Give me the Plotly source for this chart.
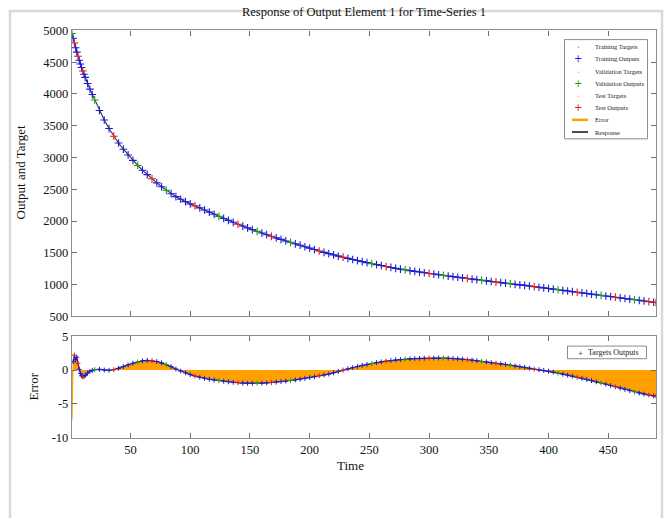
import plotly.graph_objects as go

# ---- data -------------------------------------------------------------
time = [
    1, 2, 3, 4, 5, 6, 7, 8, 9, 10, 11, 12, 14, 16, 18,
    20, 24, 28, 32, 36, 40, 44, 48, 52, 56, 60, 64, 68, 72, 76, 80, 84, 88, 92, 96, 100, 104, 108,
    112, 116, 120, 124, 128, 132, 136, 140, 144, 148, 152, 156, 160, 164, 168, 172, 176, 180, 184, 188, 192, 196, 200,
    204, 208, 212, 216, 220, 224, 228, 232, 236, 240, 244, 248, 252, 256, 260, 264, 268, 272, 276, 280, 284, 288, 292, 296, 300,
    304, 308, 312, 316, 320, 324, 328, 332, 336, 340, 344, 348, 352, 356, 360, 364, 368, 372, 376, 380, 384, 388, 392, 396, 400,
    404, 408, 412, 416, 420, 424, 428, 432, 436, 440, 444, 448, 452, 456, 460, 464, 468, 472, 476, 480, 484, 488, 490,
]

outputs = [
    4950, 4875, 4800, 4727, 4657, 4592, 4530, 4470, 4415, 4360, 4310, 4260, 4165, 4075, 3990,
    3905, 3740, 3590, 3455, 3335, 3228, 3130, 3040, 2955, 2875, 2800, 2730, 2665, 2600, 2540, 2484, 2430, 2385, 2343, 2305, 2270, 2238, 2207,
    2174, 2140, 2106, 2073, 2041, 2010, 1980, 1950, 1921, 1893, 1865, 1838, 1811, 1785, 1760, 1735, 1711, 1687, 1664, 1642, 1620, 1596, 1574,
    1552, 1529, 1508, 1488, 1468, 1449, 1431, 1413, 1395, 1379, 1362, 1346, 1330, 1315, 1300, 1284, 1270, 1256, 1243, 1232, 1220, 1209, 1198, 1187, 1176,
    1166, 1155, 1145, 1135, 1126, 1116, 1106, 1097, 1087, 1078, 1068, 1059, 1049, 1040, 1031, 1022, 1013, 1004, 996, 988, 978, 968, 959, 949, 939,
    929, 919, 910, 900, 890, 880, 870, 861, 851, 841, 831, 821, 812, 802, 792, 782, 772, 763, 753, 743, 733, 723, 718,
]

errors = [
    -7.4, 1.2, 2.2, 1.5, 1.9, 1.0, 0.1, -0.5, -0.85, -1.0, -0.95, -0.8, -0.45, -0.2, -0.05,
    0.05, 0.1, 0.0, -0.05, 0.05, 0.25, 0.5, 0.75, 1.0, 1.2, 1.35, 1.42, 1.38, 1.25, 1.05, 0.8, 0.5, 0.15, -0.15, -0.42, -0.68, -0.9, -1.08,
    -1.23, -1.36, -1.47, -1.57, -1.66, -1.74, -1.82, -1.88, -1.93, -1.96, -1.97, -1.96, -1.94, -1.9, -1.85, -1.79, -1.72, -1.64, -1.55, -1.45, -1.35, -1.24, -1.12,
    -1.0, -0.87, -0.74, -0.6, -0.4, -0.2, 0.0, 0.18, 0.35, 0.52, 0.68, 0.83, 0.97, 1.1, 1.21, 1.31, 1.4, 1.48, 1.55, 1.6, 1.65, 1.69, 1.72, 1.74, 1.76,
    1.77, 1.77, 1.76, 1.74, 1.71, 1.66, 1.6, 1.53, 1.45, 1.37, 1.28, 1.19, 1.09, 0.99, 0.92, 0.82, 0.72, 0.61, 0.5, 0.39, 0.27, 0.13, 0.04, -0.06, -0.18,
    -0.31, -0.45, -0.6, -0.75, -0.9, -1.06, -1.22, -1.39, -1.56, -1.74, -1.92, -2.1, -2.29, -2.48, -2.67, -2.86, -3.05, -3.23, -3.4, -3.56, -3.7, -3.82, -3.87,
]

# error = target - output
targets = [o + e for o, e in zip(outputs, errors)]

# sample indices assigned to the validation and test subsets (rest = training)
val_idx = [0, 15, 24, 30, 41, 49, 56, 73, 80, 88, 96, 102, 112, 121, 128]
test_idx = [2, 5, 9, 19, 27, 36, 45, 52, 62, 67, 76, 85, 93, 99, 107, 116, 124, 131, 133]

y_ticks_top = [500, 1000, 1500, 2000, 2500, 3000, 3500, 4000, 4500, 5000]
y_ticks_err = [-10, -5, 0, 5]
x_ticks = [50, 100, 150, 200, 250, 300, 350, 400, 450]

legend_labels = ["Training Targets", "Training Outputs", "Validation Targets",
                 "Validation Outputs", "Test Targets", "Test Outputs", "Error", "Response"]

# ---- helpers ----------------------------------------------------------
W, H = 668, 518
FONT = "Liberation Serif"

BLUE, GREEN, RED = "#1c1cd6", "#16a016", "#de1a1a"
ORANGE = "#ffa000"


def fx(p):
    return p / W


def fy(p):
    return 1 - p / H


def subset(idx_list):
    return ([time[i] for i in idx_list],
            [outputs[i] for i in idx_list],
            [targets[i] for i in idx_list],
            [errors[i] for i in idx_list])


all_idx = list(range(len(time)))
train_idx = [i for i in all_idx if i not in val_idx and i not in test_idx]

groups = [
    ("Training", train_idx, BLUE, "#7a7aff"),
    ("Validation", val_idx, GREEN, "#7fd27f"),
    ("Test", test_idx, RED, "#ff8c8c"),
]

fig = go.Figure()

# ---- top panel: response --------------------------------------------
fig.add_trace(go.Scatter(
    x=time, y=outputs, mode="lines", name="Response",
    line=dict(color="#333333", width=1.1),
    xaxis="x", yaxis="y",
))

for label, idx, col, light in groups:
    t_, o_, g_, e_ = subset(idx)
    fig.add_trace(go.Scatter(
        x=t_, y=g_, mode="markers", name=f"{label} Targets",
        marker=dict(symbol="circle", size=2, color=light),
        xaxis="x", yaxis="y",
    ))
    fig.add_trace(go.Scatter(
        x=t_, y=o_, mode="markers", name=f"{label} Outputs",
        marker=dict(symbol="cross-thin", size=5.5, line=dict(width=1.1, color=col)),
        xaxis="x", yaxis="y",
    ))

# ---- bottom panel: errors ---------------------------------------------
fig.add_trace(go.Scatter(
    x=time, y=errors, mode="lines", fill="tozeroy",
    fillcolor=ORANGE, line=dict(color=ORANGE, width=1),
    xaxis="x2", yaxis="y2", name="Error",
))
fig.add_trace(go.Scatter(
    x=time[1:], y=errors[1:], mode="lines",
    line=dict(color="#2b2b80", width=1.2),
    xaxis="x2", yaxis="y2", name="Targets Outputs",
))
for label, idx, col, light in groups:
    t_, o_, g_, e_ = subset([i for i in idx if i > 0])
    fig.add_trace(go.Scatter(
        x=t_, y=e_, mode="markers", name=f"{label} Errors",
        marker=dict(symbol="cross-thin", size=3.5, line=dict(width=1, color=col)),
        xaxis="x2", yaxis="y2",
    ))

# ---- axes ---------------------------------------------------------------
axis_common = dict(
    showline=True, linecolor="#8c8c8c", linewidth=1.4, mirror="ticks",
    ticks="inside", ticklen=5, tickcolor="#6e6e6e", tickwidth=1,
    showgrid=False, zeroline=False,
    tickfont=dict(family=FONT, size=12.5, color="#111"),
)
x_dom = [fx(72), fx(656)]

fig.update_layout(
    xaxis=dict(domain=x_dom, anchor="y", range=[1, 490], tickvals=x_ticks,
               showticklabels=False, **axis_common),
    yaxis=dict(domain=[fy(318), fy(24)], anchor="x", range=[500, 5000],
               tickvals=y_ticks_top, **axis_common),
    xaxis2=dict(domain=x_dom, anchor="y2", range=[1, 490], tickvals=x_ticks,
                **axis_common),
    yaxis2=dict(domain=[fy(442.7), fy(338.3)], anchor="x2", range=[-10, 5],
                tickvals=y_ticks_err, ticktext=[str(v) for v in y_ticks_err],
                **axis_common),
)

# ---- text, frame and hand-built legends -------------------------------
annotations = [
    dict(text="Output and Target", x=fx(20), y=fy(170), textangle=-90,
         font=dict(family=FONT, size=13, color="#111")),
    dict(text="Error", x=fx(33), y=fy(390), textangle=-90,
         font=dict(family=FONT, size=13, color="#111")),
    dict(text="Time", x=fx(350), y=fy(471),
         font=dict(family=FONT, size=13, color="#111")),
]

shapes = [
    dict(type="rect", xref="paper", yref="paper",
         x0=fx(10), x1=fx(662), y0=-0.05, y1=fy(4),
         line=dict(color="#d9d9d9", width=2.5), layer="below"),
    # legend boxes
    dict(type="rect", xref="paper", yref="paper",
         x0=fx(564.5), x1=fx(647.5), y0=fy(135.5), y1=fy(33.5),
         line=dict(color="#8c8c8c", width=1), fillcolor="white", layer="above"),
    dict(type="rect", xref="paper", yref="paper",
         x0=fx(567.5), x1=fx(646.5), y0=fy(361.5), y1=fy(348.5),
         line=dict(color="#8c8c8c", width=1), fillcolor="white", layer="above"),
]

row_y = [40.7, 53.3, 66.5, 79.0, 91.0, 103.3, 116.0, 128.5]
symbols = [("•", "#7a7aff", 5), ("+", BLUE, 10), ("•", "#7fd27f", 5), ("+", GREEN, 10),
           ("•", "#ff8c8c", 5), ("+", RED, 10), None, None]
for k, (lab, yy) in enumerate(zip(legend_labels, row_y)):
    annotations.append(dict(text=lab, x=fx(592.5), y=fy(yy), xanchor="left",
                            font=dict(family=FONT, size=6.5, color="#222")))
    sym = symbols[k]
    if sym is not None:
        annotations.append(dict(text=sym[0], x=fx(578), y=fy(yy), xanchor="center",
                                font=dict(family="DejaVu Sans", size=sym[2], color=sym[1])))
shapes.append(dict(type="line", xref="paper", yref="paper", x0=fx(572), x1=fx(588),
                   y0=fy(row_y[6]), y1=fy(row_y[6]), line=dict(color=ORANGE, width=2.5)))
shapes.append(dict(type="line", xref="paper", yref="paper", x0=fx(572), x1=fx(588),
                   y0=fy(row_y[7]), y1=fy(row_y[7]), line=dict(color="#3a3a3a", width=1.8)))

annotations.append(dict(text="+", x=fx(580.5), y=fy(355), xanchor="center",
                        font=dict(family="DejaVu Sans", size=6, color="#2b2b80")))
annotations.append(dict(text="Targets Outputs", x=fx(586), y=fy(355), xanchor="left",
                        font=dict(family=FONT, size=8, color="#222")))

for a in annotations:
    a.setdefault("xanchor", "center")
    a.update(xref="paper", yref="paper", yanchor="middle", showarrow=False)

fig.update_layout(
    width=W, height=H, autosize=False,
    margin=dict(l=0, r=0, t=0, b=0),
    paper_bgcolor="white", plot_bgcolor="white",
    showlegend=False,
    title=dict(text="Response of Output Element 1 for Time-Series 1",
               x=fx(364), y=fy(12), xanchor="center", yanchor="middle",
               font=dict(family=FONT, size=12.5, color="#111")),
    annotations=annotations,
    shapes=shapes,
)

fig.write_html("out.html")
